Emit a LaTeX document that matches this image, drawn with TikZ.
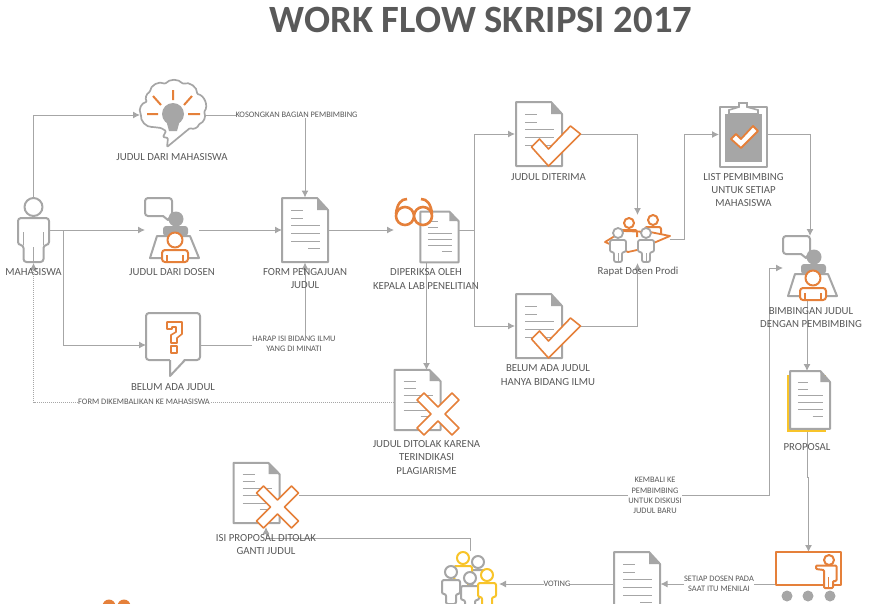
\documentclass[tikz,border=0pt]{standalone}
\usepackage{fontspec}
\setmainfont{Carlito}
\usetikzlibrary{arrows.meta}
\definecolor{abu}{HTML}{A6A6A6}
\definecolor{teks}{HTML}{595959}
\definecolor{oranye}{HTML}{E5803A}
\definecolor{kuning}{HTML}{F8C42A}
\tikzset{
  anchorbox/.style={inner sep=0pt,outer sep=0pt},
  flow/.style={abu,line width=1pt,-{Latex[length=7pt,width=7pt]}},
  judul/.style={anchorbox,text=teks,align=center,font=\fontsize{10.8}{13.3}\selectfont},
  catatan/.style={anchorbox,fill=white,text=teks,align=center,font=\fontsize{8.4}{10.3}\selectfont},
  ikon/.style={abu,line width=2pt,line join=round},
  ikonor/.style={oranye,line width=2pt,line join=round},
  dokumen/.pic={
    \fill[white] (-23,-32) -- (12,-32) -- (23,-20) -- (23,32) -- (-23,32) -- cycle;
    \draw[ikon] (-23,-32) -- (12,-32) -- (23,-20) -- (23,32) -- (-23,32) -- cycle;
    \fill[abu] (12,-32) -- (23,-20) -- (12,-20) -- cycle;
    \draw[abu,line width=1pt] (-14,-20) -- (-2,-20) (-14,-12) -- (-2,-12)
      (-14,-5) -- (15,-5) (-14,3) -- (15,3) (-14,11) -- (15,11) (3,18) -- (15,18);
  },
  centang/.pic={
    \draw[oranye,fill=white,line width=1.6pt,line join=round]
      (-17,-1) -- (-9,-9) -- (0,1) -- (22,-22) -- (32,-14) -- (0,18) -- cycle;
  },
  silang/.pic={
    \draw[oranye,fill=white,line width=1.6pt,line join=round]
      (-21,-14) -- (-14,-21) -- (0,-7) -- (14,-21) -- (21,-14) -- (7,0)
      -- (21,14) -- (14,21) -- (0,7) -- (-14,21) -- (-21,14) -- (-7,0) -- cycle;
  },
  dosenikon/.pic={
    \draw[ikon,fill=white,rounded corners=3pt] (-27,-32) rectangle (0,-14);
    \fill[white] (-9,-15.5) -- (-4,-10) -- (-1,-15.5) -- cycle;
    \draw[ikon] (-9,-14) -- (-4,-10) -- (0,-16);
    \fill[abu] (4,-11) circle (7.5);
    \fill[abu,rounded corners=3pt] (-9,6) -- (-9,-4) -- (16,-4) -- (16,6) -- cycle;
    \draw[ikon,fill=white] (-15,6) -- (18,6) -- (27,28) -- (-22,28) -- cycle;
    \draw[ikonor,fill=white] (3,10) circle (7.5);
    \draw[ikonor,fill=white,rounded corners=3pt] (-10,32) -- (-10,20) -- (16,20) -- (16,32) -- cycle;
    \draw[ikonor,line width=1.2pt] (-5,25) -- (-5,32) (11,25) -- (11,32);
  },
}
\begin{document}
\begin{tikzpicture}[x=1pt,y=-1pt]
  \useasboundingbox (0,0) rectangle (875,603);
  \clip (0,0) rectangle (875,603);
  % kotak ikon
  \node[anchorbox,minimum width=31pt,minimum height=66pt] (mahasiswa) at (33.5,230) {};
  \node[anchorbox,minimum width=65pt,minimum height=64pt] (ide) at (172.5,115) {};
  \node[anchorbox,minimum width=54pt,minimum height=66pt] (dosen) at (172,230) {};
  \node[anchorbox,minimum width=54pt,minimum height=64pt] (tanya) at (173,345) {};
  \node[anchorbox,minimum width=46pt,minimum height=65pt] (form) at (305,230) {};
  \node[anchorbox,minimum width=65pt,minimum height=64pt] (kepala) at (426.5,230) {};
  \node[anchorbox,minimum width=65pt,minimum height=64pt] (terima) at (547.5,134) {};
  \node[anchorbox,minimum width=65pt,minimum height=64pt] (belum) at (547.5,326) {};
  \node[anchorbox,minimum width=65pt,minimum height=64pt] (ditolak) at (426.5,402) {};
  \node[anchorbox,minimum width=65pt,minimum height=48pt] (rapat) at (637.5,239) {};
  \node[anchorbox,minimum width=48pt,minimum height=65pt] (daftar) at (743,134.5) {};
  \node[anchorbox,minimum width=54pt,minimum height=64pt] (bimbingan) at (810,268) {};
  \node[anchorbox,minimum width=44pt,minimum height=58pt] (proposal) at (807,400) {};
  \node[anchorbox,minimum width=65pt,minimum height=64pt] (presentasi) at (808.5,584) {};
  \node[anchorbox,minimum width=47pt,minimum height=65pt] (nilai) at (637,584) {};
  \node[anchorbox,minimum width=58pt,minimum height=66pt] (voting) at (470,584) {};
  \node[anchorbox,minimum width=66pt,minimum height=64pt] (tolak) at (266,495) {};
  % titik belok
  \coordinate (mhsjog) at (63,230);
  \coordinate (kepalajog) at (474,230);
  \coordinate (rapatjog) at (684,239);
  \coordinate (tolakjog) at (769,495);
  \coordinate (propjog) at (808.5,477);
  \coordinate (votingjog) at (470,538);
  % panah
  \draw[flow] (mahasiswa.north) |- (ide.west);
  \draw[flow] (mahasiswa.east) -- (dosen.west);
  \draw[flow] (mahasiswa.east) -- (mhsjog) |- (tanya.west);
  \draw[flow] (ide.east) -| (form.north);
  \draw[flow] (dosen.east) -- (form.west);
  \draw[flow] (tanya.east) -| (form.south);
  \draw[flow] (form.east) -- (kepala.west);
  \draw[flow] (kepala.east) -- (kepalajog) |- (terima.west);
  \draw[flow] (kepala.east) -- (kepalajog) |- (belum.west);
  \draw[flow] (kepala.south) -- (ditolak.north);
  \draw[flow,densely dotted,line width=.7pt] (ditolak.west) -| (mahasiswa.south);
  \draw[flow] (terima.east) -| (rapat.north);
  \draw[flow] (belum.east) -| (rapat.south);
  \draw[flow] (rapat.east) -- (rapatjog) |- (daftar.west);
  \draw[flow] (daftar.east) -| (bimbingan.north);
  \draw[flow] (bimbingan.south -| proposal.north) -- (proposal.north);
  \draw[flow] (proposal.south) |- (propjog) -- (presentasi.north);
  \draw[flow] (presentasi.west) -- (nilai.east);
  \draw[flow] (nilai.west) -- (voting.east);
  \draw[flow] (voting.north) |- (votingjog) -| (tolak.south);
  \draw[flow] (tolak.east) -- (tolakjog) |- (bimbingan.west);
  % mahasiswa
  \draw[ikon,fill=white] (33.5,207) circle (9);
  \draw[ikon,fill=white,rounded corners=3pt] (18,245) -- (18,218) -- (49,218) -- (49,245) -- (43.5,245) -- (43.5,262) -- (23.5,262) -- (23.5,245) -- cycle;
  \draw[ikon,line width=1.2pt] (23.5,232) -- (23.5,245) (43.5,232) -- (43.5,245);
  \draw[abu,line width=1.2pt] (33.5,262) -- (33.5,247);
  % ide
  \draw[ikon,fill=white,line width=1.7pt,rounded corners=1pt]
    (167,147) -- (190,128) to[bend right=50] (199,124) to[bend right=50] (204,112)
    to[bend right=60] (197,94) to[bend right=60] (183,84) to[bend right=50] (165,84)
    to[bend right=60] (150,92) to[bend right=50] (147,102) to[bend right=60] (141,114)
    to[bend right=50] (153,127) -- (161,128) -- (166,131) -- (163,137) -- (168,138) -- cycle;
  \fill[abu] (173,114) circle (11);
  \fill[abu] (166,120) -- (180,120) -- (177,131) -- (169,131) -- cycle;
  \draw[oranye,line width=2pt] (173,90) -- (173,100) (153,96) -- (161,105) (192,96) -- (184,105)
    (147,114) -- (158,114) (188,114) -- (200,114);
  % dosen
  \pic at (dosen.center) {dosenikon};
  \pic at (bimbingan.center) {dosenikon};
  % belum ada judul
  \draw[ikon,fill=white,rounded corners=3pt] (146,313) rectangle (200,360);
  \fill[white] (170,358) -- (185,358) -- (170,375) -- cycle;
  \draw[ikon] (170,360) -- (170,376) -- (185,360);
  \draw[ikonor,line width=1.6pt] (167,326) -- (167,322) -- (182,322) -- (182,334) -- (177,338) -- (177,343) -- (171,343) -- (171,335) -- (176,332) -- (176,327) -- (172,327) -- (172,329) -- (167,329) -- cycle;
  \draw[ikonor,line width=1.6pt] (171,346) rectangle (177,353);
  % dokumen
  \pic at (form.center) {dokumen};
  \pic[xscale=.83,yscale=.79] at ([xshift=13pt,yshift=-7pt]kepala.center) {dokumen};
  \draw[oranye,line width=2.6pt] (405,216) circle (9) (423,216) circle (9);
  \draw[oranye,line width=2.6pt] (396,214) .. controls (397,204) and (401,199) .. (407,199)
    (432,214) .. controls (431,204) and (427,199) .. (421,199);
  \pic at ([xshift=-8.5pt]terima.center) {dokumen};
  \pic at ([xshift=1pt,yshift=-14pt]terima.center) {centang};
  \pic at ([xshift=-8.5pt]belum.center) {dokumen};
  \pic at ([xshift=1pt,yshift=-14pt]belum.center) {centang};
  \pic[yscale=.94] at ([xshift=-9pt,yshift=2pt]ditolak.center) {dokumen};
  \pic at ([xshift=11.5pt,yshift=-12pt]ditolak.center) {silang};
  \pic[yscale=.94] at ([xshift=-9.5pt,yshift=2pt]tolak.center) {dokumen};
  \pic at ([xshift=11.5pt,yshift=-12pt]tolak.center) {silang};
  \fill[kuning] (787,375) rectangle (826,432);
  \pic[xscale=.87,yscale=.9] at ([xshift=3pt]proposal.center) {dokumen};
  \pic at (nilai.center) {dokumen};
  % daftar
  \draw[ikon,fill=white] (720,107) rectangle (767,167);
  \fill[abu] (725,114) rectangle (762,162);
  \draw[abu,line width=1.6pt,fill=white] (729,114) -- (729,110) -- (739,107) -- (739,103) -- (747,103) -- (747,107) -- (758,110) -- (758,114) -- cycle;
  \draw[oranye,fill=white,line width=1.8pt,line join=round] (731,139) -- (736,134) -- (741,139) -- (753,126) -- (758,131) -- (741,148) -- cycle;
  % rapat
  \foreach \px/\py in {629/223,653/220}{
    \draw[ikonor,fill=white] (\px,\py) circle (5);
    \draw[ikonor,fill=white,rounded corners=2pt] (\px-8,\py+14) -- (\px-8,\py+7) -- (\px+8,\py+7) -- (\px+8,\py+14);
  }
  \draw[ikonor,line width=1.8pt] (605,242) -- (623,231) -- (650,232) -- (670,236) -- (637,250) -- (628,252) -- cycle;
  \foreach \px in {618,646}{
    \draw[abu,line width=1.8pt,fill=white,rounded corners=2pt] (\px-4,262) -- (\px-4,252) -- (\px-8,252) -- (\px-8,240) -- (\px+8,240) -- (\px+8,252) -- (\px+4,252) -- (\px+4,262) -- cycle;
    \draw[abu,line width=1.8pt,fill=white] (\px,233) circle (5);
    \draw[abu,line width=1pt] (\px,262) -- (\px,253);
  }
  % voting
  \foreach \px/\py/\wr in {478/562/abu,463/558/kuning,451/572/abu,470/578/abu,487/575/kuning}{
    \draw[\wr,line width=2pt,fill=white,rounded corners=2pt] (\px-5,\py+32) -- (\px-5,\py+22) -- (\px-9,\py+22) -- (\px-9,\py+8) -- (\px+9,\py+8) -- (\px+9,\py+22) -- (\px+5,\py+22) -- (\px+5,\py+32) -- cycle;
    \draw[\wr,line width=2pt,fill=white] (\px,\py) circle (6);
  }
  % presentasi
  \draw[ikonor,fill=white] (776,552) rectangle (841,585);
  \draw[ikonor,fill=white] (829,560) circle (5);
  \draw[ikonor,fill=white,rounded corners=1pt] (816,565.5) -- (836.5,565.5) -- (836.5,581) -- (833,581) -- (833,588) -- (824,588) -- (824,570) -- (816,569) -- cycle;
  \draw[ikonor,line width=1.2pt] (828.5,577) -- (828.5,588);
  \foreach \px in {787,808,830}{
    \fill[abu] (\px,596) circle (5.5);
  }
  % kacamata bawah
  \fill[oranye] (109,606) circle (6.5) (124,606) circle (6.5);
  % judul
  \node[anchorbox,text=teks,font=\bfseries\fontsize{38.6}{40}\selectfont] (headline) at (481,20) {WORK FLOW SKRIPSI 2017};
  \node[judul] (lblmhs) at (33.5,272) {MAHASISWA};
  \node[judul] (lblide) at (172,157) {JUDUL DARI MAHASISWA};
  \node[judul] (lbldosen) at (172,272) {JUDUL DARI DOSEN};
  \node[judul] (lbltanya) at (173,387) {BELUM ADA JUDUL};
  \node[judul] (lblform) at (305,278.5) {FORM PENGAJUAN\\JUDUL};
  \node[judul] (lblkepala) at (426,279) {DIPERIKSA OLEH\\KEPALA LAB PENELITIAN};
  \node[judul] (lblterima) at (548.5,177) {JUDUL DITERIMA};
  \node[judul] (lblbelum) at (548,375) {BELUM ADA JUDUL\\HANYA BIDANG ILMU};
  \node[judul] (lblrapat) at (638,272) {Rapat Dosen Prodi};
  \node[judul] (lbldaftar) at (743.5,190) {LIST PEMBIMBING\\UNTUK SETIAP\\MAHASISWA};
  \node[judul] (lblbimbingan) at (811,317.5) {BIMBINGAN JUDUL\\DENGAN PEMBIMBING};
  \node[judul] (lblditolak) at (426.5,457.5) {JUDUL DITOLAK KARENA\\TERINDIKASI\\PLAGIARISME};
  \node[judul] (lbltolak) at (266,544.5) {ISI PROPOSAL DITOLAK\\GANTI JUDUL};
  \node[judul] (lblproposal) at (807,447) {PROPOSAL};
  \node[catatan] (cttkosong) at (296.5,115) {KOSONGKAN BAGIAN PEMBIMBING};
  \node[catatan] (ctthimbau) at (294,344) {HARAP ISI BIDANG ILMU\\YANG DI MINATI};
  \node[catatan] (cttform) at (144,402) {FORM DIKEMBALIKAN KE MAHASISWA};
  \node[catatan] (cttkembali) at (655,495.5) {KEMBALI KE\\PEMBIMBING\\UNTUK DISKUSI\\JUDUL BARU};
  \node[catatan] (cttnilai) at (719,584) {SETIAP DOSEN PADA\\SAAT ITU MENILAI};
  \node[catatan] (cttvoting) at (557,584) {VOTING};
\end{tikzpicture}
\end{document}
